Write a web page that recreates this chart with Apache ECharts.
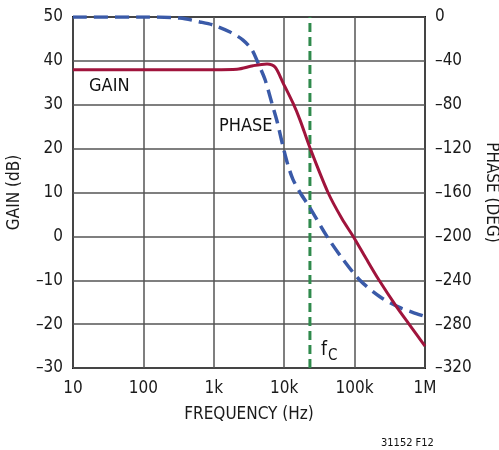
<!DOCTYPE html>
<html>
<head>
<meta charset="utf-8">
<script src="https://cdn.jsdelivr.net/npm/echarts@6/dist/echarts.min.js"></script>
<style>
  html, body { margin: 0; padding: 0; background: #fff; }
  #main { width: 499px; height: 450px; }
</style>
</head>
<body>
<div id="main"></div>
<script>
// gain curve (Hz, dB)
var gainFreq = [10, 100, 1000, 2140, 3610, 5700, 7400, 9620, 13300, 16800, 23200, 41900, 66200, 98000, 145000, 215000, 400000, 593000, 1000000];
var gainDb   = [38, 38, 38, 38.1, 38.9, 39.3, 38.6, 35, 30.4, 26.5, 20.2, 10, 4.0, -0.3, -5.0, -9.6, -16.2, -20, -25];

// phase curve (Hz, deg)
var phaseFreq = [10, 100, 331, 637, 975, 1700, 2600, 3490, 4250, 5340, 6710, 7910, 9620, 11300, 13300, 16800, 23200, 40500, 68400, 119000, 229000, 442000, 653000, 1000000];
var phaseDeg  = [0, 0, -1, -4.5, -7.3, -13.7, -21, -30, -42, -57, -79, -95, -118, -135, -148, -160, -174, -200, -221, -240, -255, -265, -269, -273];

// crossover frequency
var fcFreq = 23200;

// x tick labels
var xTicks = { 10: '10', 100: '100', 1000: '1k', 10000: '10k', 100000: '100k', 1000000: '1M' };

var FONT = '"Liberation Sans Narrow", "DejaVu Sans Condensed", "Liberation Sans", sans-serif';

function dash(v) {
    return String(v).replace('-', '\u2013');
}

function pairs(xs, ys) {
    var out = [];
    for (var i = 0; i < xs.length; i++) out.push([xs[i], ys[i]]);
    return out;
}

var myChart = echarts.init(document.getElementById('main'));

var option = {
    animation: false,
    grid: {
        left: 73, right: 74, top: 17, bottom: 82,
        containLabel: false, outerBoundsMode: 'none',
        show: true, borderColor: '#1a1a1a', borderWidth: 2
    },
    xAxis: {
        type: 'log', logBase: 10, min: 10, max: 1000000,
        name: 'FREQUENCY (Hz)', nameLocation: 'middle', nameGap: 38,
        nameTextStyle: { fontFamily: FONT, fontSize: 17, color: '#1a1a1a' },
        axisLine: { show: false },
        axisTick: { show: false },
        minorTick: { show: false },
        splitLine: { show: true, lineStyle: { color: '#555', width: 1.5 } },
        axisLabel: {
            fontFamily: FONT, fontSize: 17, color: '#1a1a1a', margin: 12,
            showMinLabel: true, showMaxLabel: true,
            formatter: function (v) { return xTicks[Math.round(v)] || ''; }
        }
    },
    yAxis: [{
        type: 'value', min: -30, max: 50, interval: 10,
        name: 'GAIN (dB)', nameLocation: 'middle', nameGap: 50,
        nameTextStyle: { fontFamily: FONT, fontSize: 17, color: '#1a1a1a' },
        axisLine: { show: false },
        axisTick: { show: false },
        splitLine: { show: true, lineStyle: { color: '#555', width: 1.5 } },
        axisLabel: { fontFamily: FONT, fontSize: 17, color: '#1a1a1a', margin: 10, formatter: dash }
    }, {
        type: 'value', min: -320, max: 0, interval: 40, position: 'right',
        name: 'PHASE (DEG)', nameLocation: 'middle', nameGap: 51, nameRotate: -90,
        nameTextStyle: { fontFamily: FONT, fontSize: 17, color: '#1a1a1a' },
        axisLine: { show: false },
        axisTick: { show: false },
        splitLine: { show: false },
        axisLabel: { fontFamily: FONT, fontSize: 17, color: '#1a1a1a', margin: 10, formatter: dash }
    }],
    series: [{
        name: 'fc',
        type: 'line',
        yAxisIndex: 0,
        data: [[fcFreq, -30], [fcFreq, 50]],
        symbol: 'none',
        lineStyle: { color: '#2f8a4c', width: 3, type: [9, 5] },
        z: 3
    }, {
        name: 'PHASE',
        type: 'line',
        yAxisIndex: 1,
        data: pairs(phaseFreq, phaseDeg),
        symbol: 'none',
        smooth: 0.3,
        lineStyle: { color: '#3a5aa8', width: 3.5, type: [14, 7] },
        z: 4
    }, {
        name: 'GAIN',
        type: 'line',
        yAxisIndex: 0,
        data: pairs(gainFreq, gainDb),
        symbol: 'none',
        smooth: 0.3,
        lineStyle: { color: '#a0143c', width: 3 },
        z: 5
    }],
    graphic: [
        { type: 'text', left: 89, top: 77, style: { text: 'GAIN', font: '18px ' + FONT, fill: '#111' } },
        { type: 'text', left: 219, top: 117, style: { text: 'PHASE', font: '18px ' + FONT, fill: '#111' } },
        { type: 'text', left: 321, top: 341, style: {
            text: '{f|f}{c|C}',
            rich: {
                f: { font: '19px ' + FONT, fill: '#111', verticalAlign: 'top' },
                c: { font: '15px ' + FONT, fill: '#111', padding: [8, 0, 0, 1] }
            }
        } },
        { type: 'text', left: 381, top: 438, style: { text: '31152 F12', font: '11px ' + FONT, fill: '#111' } }
    ]
};

myChart.setOption(option);
window.addEventListener('resize', function () {
    myChart.resize();
});
</script>
</body>
</html>
